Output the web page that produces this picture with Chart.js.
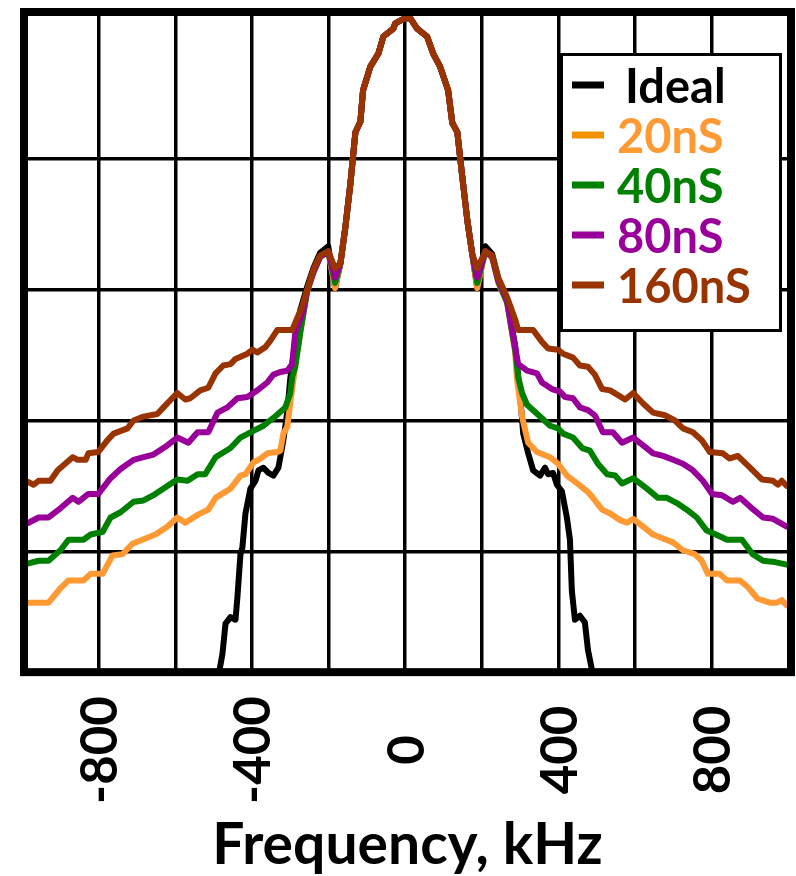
<!DOCTYPE html>
<html>
<head>
<meta charset="utf-8">
<script src="https://cdn.jsdelivr.net/npm/chart.js@4"></script>
<style>
  html, body { margin: 0; padding: 0; background: #ffffff; }
  canvas { display: block; }
</style>
</head>
<body>
<canvas id="spectrum" width="796" height="876"></canvas>
<script>
// Spectrum levels in dB against frequency offset in kHz.
// The main lobe is shared by every trace; each trace has its own skirts.
const mainLobe = [[-169,-18.0],[-156,-15.2],[-143,-11.9],[-130,-8.0],[-117,-7.2],[-110,-4.8],[-91,-3.0],[-70,-2.0],[-57,-0.7],[-31,-0.1],[-26,0.3],[0,0.7],[13,0.7],[31,-0.1],[57,-0.7],[73,-2.0],[91,-3.0],[112,-4.8],[123,-7.3],[136,-8.0],[149,-11.4],[162,-14.7],[175,-17.3]];

const idealLeft = [[-495,-50.6],[-488,-49.6],[-477,-47.8],[-469,-45.5],[-456,-45.0],[-443,-45.2],[-438,-43.5],[-430,-40.2],[-425,-39.7],[-417,-37.1],[-404,-35.2],[-391,-34.6],[-383,-33.8],[-370,-33.6],[-357,-34.0],[-344,-34.2],[-331,-33.6],[-318,-31.5],[-308,-29.4],[-300,-26.8],[-287,-23.9],[-274,-21.6],[-256,-19.8],[-240,-18.4],[-222,-17.2],[-201,-16.7],[-183,-19.9]];
const idealRight = [[188,-19.9],[209,-16.7],[227,-17.3],[243,-19.2],[266,-20.8],[287,-24.3],[300,-28.1],[308,-31.0],[321,-32.5],[334,-33.8],[352,-34.2],[365,-33.6],[373,-34.1],[386,-34.0],[396,-34.9],[409,-35.4],[422,-37.4],[430,-39.1],[435,-43.0],[443,-45.2],[456,-44.9],[469,-45.4],[477,-47.5],[488,-49.1],[495,-50.6]];

const ns20Left = [[-1000,-44.0],[-983,-43.9],[-957,-43.9],[-931,-43.9],[-900,-42.8],[-879,-42.2],[-840,-42.2],[-821,-41.7],[-790,-41.7],[-764,-40.3],[-738,-40.2],[-712,-39.4],[-678,-39.0],[-652,-38.7],[-621,-38.1],[-595,-37.4],[-574,-37.8],[-542,-37.2],[-514,-36.8],[-495,-35.9],[-456,-35.2],[-430,-34.2],[-417,-34.1],[-396,-33.2],[-378,-32.9],[-360,-32.5],[-334,-32.4],[-326,-32.3],[-318,-31.0],[-308,-30.5],[-300,-28.7],[-285,-25.4],[-274,-23.3],[-256,-20.2],[-240,-18.8],[-222,-17.5],[-201,-17.1],[-183,-19.9]];
const ns20Right = [[188,-19.9],[209,-17.1],[227,-17.6],[243,-19.5],[266,-21.0],[287,-24.8],[292,-26.9],[305,-29.7],[321,-31.7],[344,-32.4],[378,-32.8],[399,-33.3],[422,-34.2],[449,-34.8],[475,-35.4],[490,-35.9],[514,-36.8],[535,-37.1],[561,-37.6],[579,-37.8],[595,-37.5],[621,-38.1],[647,-38.7],[673,-39.0],[699,-39.3],[725,-39.9],[756,-40.2],[774,-40.7],[790,-41.7],[821,-41.7],[840,-42.2],[874,-42.2],[894,-42.7],[920,-43.6],[952,-43.9],[970,-43.9],[983,-43.7],[996,-44.1],[1010,-44.2]];

const ns40Left = [[-1000,-41.0],[-983,-40.9],[-957,-40.7],[-931,-40.7],[-900,-39.9],[-879,-39.1],[-840,-39.1],[-821,-38.7],[-790,-38.5],[-769,-37.4],[-743,-37.0],[-709,-36.2],[-683,-36.1],[-657,-35.7],[-621,-35.0],[-595,-34.5],[-568,-34.6],[-542,-34.1],[-522,-34.1],[-495,-32.8],[-456,-32.1],[-430,-31.3],[-404,-30.9],[-370,-30.4],[-344,-29.8],[-313,-29.0],[-300,-27.9],[-295,-26.7],[-287,-25.9],[-274,-23.3],[-256,-20.1],[-240,-18.7],[-222,-17.5],[-201,-17.1],[-183,-19.5]];
const ns40Right = [[188,-19.5],[209,-17.1],[227,-17.5],[243,-19.4],[266,-21.0],[287,-24.6],[295,-26.7],[305,-27.9],[318,-28.8],[352,-29.7],[378,-30.4],[399,-30.6],[412,-31.0],[438,-31.3],[462,-32.1],[482,-32.3],[503,-33.3],[527,-34.1],[548,-34.2],[566,-34.8],[595,-34.4],[631,-35.2],[660,-35.9],[683,-35.9],[709,-36.3],[735,-36.8],[761,-37.4],[787,-38.4],[811,-38.7],[840,-39.1],[879,-39.1],[907,-40.2],[934,-40.7],[965,-40.8],[996,-41.0],[1010,-41.0]];

const ns80Left = [[-1000,-37.9],[-983,-37.8],[-957,-37.4],[-931,-37.4],[-900,-36.7],[-868,-35.9],[-853,-36.2],[-827,-35.6],[-801,-35.6],[-769,-34.4],[-743,-33.7],[-709,-33.0],[-683,-32.8],[-657,-32.6],[-621,-31.9],[-595,-31.3],[-566,-31.7],[-542,-30.9],[-514,-30.9],[-490,-29.4],[-464,-29.0],[-438,-28.3],[-412,-28.2],[-386,-27.7],[-360,-27.1],[-344,-26.5],[-326,-26.3],[-308,-26.2],[-295,-25.7],[-287,-23.3],[-266,-21.6],[-256,-20.1],[-240,-18.7],[-222,-17.5],[-201,-17.1],[-183,-19.1]];
const ns80Right = [[188,-19.1],[209,-17.1],[227,-17.5],[243,-19.3],[266,-20.8],[279,-23.1],[295,-25.7],[318,-26.2],[344,-26.4],[357,-27.1],[383,-27.6],[404,-27.8],[417,-28.2],[438,-28.3],[456,-29.0],[477,-29.2],[495,-29.6],[516,-30.9],[542,-30.9],[566,-31.7],[595,-31.3],[621,-31.9],[647,-32.5],[673,-32.7],[699,-33.0],[725,-33.3],[751,-33.8],[777,-34.6],[801,-35.6],[827,-35.7],[855,-36.2],[874,-35.9],[905,-36.7],[934,-37.4],[960,-37.5],[996,-38.1],[1010,-38.2]];

const ns160Left = [[-1000,-34.7],[-983,-34.7],[-970,-34.9],[-957,-34.6],[-926,-34.6],[-907,-33.8],[-868,-32.8],[-855,-33.0],[-834,-33.0],[-827,-32.5],[-801,-32.4],[-777,-31.5],[-761,-31.0],[-725,-30.6],[-709,-30.0],[-683,-29.7],[-647,-29.5],[-631,-29.0],[-595,-27.9],[-574,-28.4],[-561,-28.3],[-535,-27.7],[-514,-27.5],[-495,-26.4],[-475,-25.8],[-456,-25.7],[-443,-25.3],[-412,-24.9],[-399,-24.6],[-386,-24.8],[-365,-24.4],[-352,-23.9],[-334,-23.1],[-295,-23.1],[-269,-21.3],[-240,-18.5],[-222,-17.4],[-201,-17.1],[-183,-18.4]];
const ns160Right = [[188,-18.4],[209,-17.1],[227,-17.4],[243,-19.1],[266,-20.6],[287,-22.3],[295,-23.1],[334,-23.1],[357,-24.0],[373,-24.5],[399,-24.6],[412,-24.9],[438,-25.2],[456,-25.8],[477,-25.9],[495,-26.5],[514,-27.6],[535,-27.7],[574,-28.4],[595,-27.9],[621,-28.7],[647,-29.4],[678,-29.6],[704,-30.0],[725,-30.6],[751,-30.9],[774,-31.5],[795,-32.4],[829,-32.5],[847,-32.9],[868,-32.7],[900,-33.6],[931,-34.5],[960,-34.6],[973,-34.9],[983,-34.6],[996,-35.0],[1010,-35.0]];

// Axis grid and labels
const freqGrid = [-800, -600, -400, -200, 0, 200, 400, 600, 800];
const freqTickLabels = [-800, -400, 0, 400, 800];
const levelGrid = [-10, -20, -30, -40];

function trace(left, right) {
  return left.concat(mainLobe, right).map(([x, y]) => ({ x, y }));
}

const traces = [
  { label: 'Ideal', data: trace(idealLeft, idealRight), line: '#000000', swatch: '#000000', text: '#000000' },
  { label: '20nS', data: trace(ns20Left, ns20Right), line: '#FF9933', swatch: '#F39200', text: '#FF9933' },
  { label: '40nS', data: trace(ns40Left, ns40Right), line: '#008000', swatch: '#008000', text: '#008000' },
  { label: '80nS', data: trace(ns80Left, ns80Right), line: '#990099', swatch: '#990099', text: '#990099' },
  { label: '160nS', data: trace(ns160Left, ns160Right), line: '#993300', swatch: '#993300', text: '#993300' }
];

const FONT = 'Lato, "Open Sans", sans-serif';

const framePlugin = {
  id: 'frameAndLabels',
  afterDatasetsDraw(chart) {
    const { ctx, chartArea: a } = chart;
    ctx.save();
    ctx.strokeStyle = '#000';
    ctx.lineWidth = 8;
    ctx.strokeRect(a.left, a.top, a.right - a.left, a.bottom - a.top);
    ctx.restore();
  },
  afterDraw(chart) {
    const { ctx } = chart;
    const xs = chart.scales.x;

    // rotated frequency labels, centred under their grid lines
    ctx.save();
    ctx.fillStyle = '#000';
    ctx.font = 'bold 51px ' + FONT;
    ctx.textAlign = 'center';
    ctx.textBaseline = 'middle';
    freqTickLabels.forEach(v => {
      const px = xs.getPixelForValue(v);
      ctx.save();
      ctx.translate(px + 2, 750);
      ctx.rotate(-Math.PI / 2);
      ctx.fillText(String(v), 0, 0);
      ctx.restore();
    });
    ctx.restore();

    // boxed legend
    ctx.save();
    ctx.fillStyle = '#fff';
    ctx.fillRect(561.5, 54.5, 219, 276);
    ctx.strokeStyle = '#000';
    ctx.lineWidth = 3;
    ctx.strokeRect(561.5, 54.5, 219, 276);
    ctx.font = 'bold 47px ' + FONT;
    ctx.textAlign = 'left';
    ctx.textBaseline = 'middle';
    traces.forEach((t, i) => {
      const y = 85 + i * 50;
      ctx.strokeStyle = t.swatch;
      ctx.lineWidth = 7;
      ctx.lineCap = 'butt';
      ctx.beginPath();
      ctx.moveTo(572, y);
      ctx.lineTo(604, y);
      ctx.stroke();
      ctx.fillStyle = t.text;
      ctx.fillText(t.label, i === 0 ? 625 : 617, y + 3);
    });
    ctx.restore();
  }
};

new Chart(document.getElementById('spectrum'), {
  type: 'line',
  data: {
    datasets: traces.map((t, i) => ({
      label: t.label,
      data: t.data,
      borderColor: t.line,
      backgroundColor: t.line,
      borderWidth: 6,
      order: traces.length - i,
      fill: false
    }))
  },
  options: {
    responsive: false,
    animation: false,
    devicePixelRatio: 1,
    layout: { padding: { left: 24, right: 5, top: 12, bottom: 0 } },
    plugins: { legend: { display: false }, tooltip: { enabled: false } },
    elements: {
      point: { radius: 0, hoverRadius: 0 },
      line: { tension: 0, borderJoinStyle: 'round', borderCapStyle: 'round' }
    },
    scales: {
      x: {
        type: 'linear',
        min: -995,
        max: 1007,
        afterBuildTicks: s => { s.ticks = freqGrid.map(v => ({ value: v })); },
        ticks: { display: false },
        grid: { color: '#000', lineWidth: 3.5, drawTicks: false },
        border: { display: false },
        title: {
          display: true,
          text: 'Frequency, kHz',
          color: '#000',
          font: { family: FONT, weight: 'bold', size: 57, lineHeight: 1.05 },
          padding: { top: 144, bottom: 0 }
        }
      },
      y: {
        type: 'linear',
        min: -49.2,
        max: 1.17,
        afterBuildTicks: s => { s.ticks = levelGrid.map(v => ({ value: v })); },
        ticks: { display: false },
        grid: { color: '#000', lineWidth: 3.5, drawTicks: false },
        border: { display: false }
      }
    }
  },
  plugins: [framePlugin]
});
</script>
</body>
</html>
